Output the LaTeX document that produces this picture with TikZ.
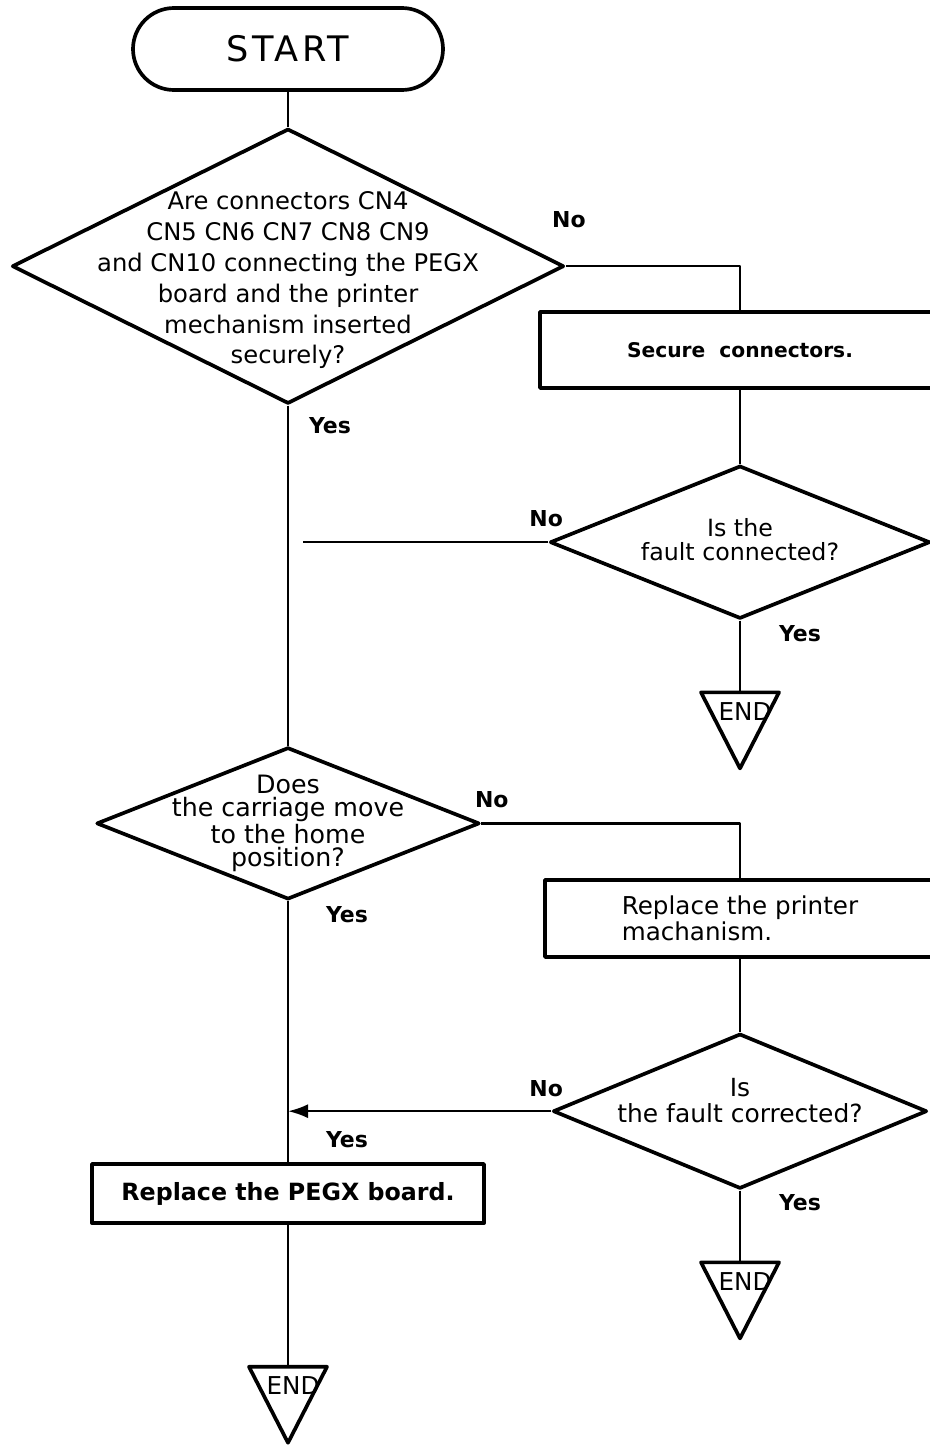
\documentclass[tikz,border=0pt]{standalone}
\usepackage{fontspec}
\setmainfont{DejaVu Sans}
\usetikzlibrary{arrows.meta,positioning,shapes.geometric}

\tikzset{
  decision/.style={draw,diamond,line width=2.1pt,inner sep=0pt},
  action/.style={draw,rectangle,line width=2.1pt,align=left},
  endmark/.style={draw,isosceles triangle,isosceles triangle stretches,shape border rotate=270,
    line width=2.1pt,inner sep=0pt,minimum width=1.56cm,minimum height=1.52cm},
  endtext/.style={font=\fontsize{14}{16}\selectfont},
  yesno/.style={font=\bfseries\fontsize{12.5}{14}\selectfont},
  ask/.style={align=center}
}

\begin{document}
\begin{tikzpicture}[line width=1.3pt,line join=round]
    \useasboundingbox (0,0) rectangle (18.58,-28.92);

    \node[draw,rounded corners=0.82cm,line width=2.1pt,minimum width=6.2cm,minimum height=1.64cm,
      font=\fontsize{20}{24}\selectfont\addfontfeatures{LetterSpace=10}] (start) at (5.76,-0.98) {START};
    \node[decision,minimum width=11.04cm,minimum height=5.5cm,below=0.7cm of start] (q1) {};
    \node[ask,font=\fontsize{13.8}{17.6}\selectfont] (q1t) at ([yshift=-0.28cm]q1.center)
      {Are connectors CN4\\CN5 CN6 CN7 CN8 CN9\\and CN10 connecting the PEGX\\board and the printer\\mechanism inserted\\securely?};

    \node[action,minimum width=8cm,minimum height=1.52cm,font=\bfseries\fontsize{11.5}{14}\selectfont]
      (fix) at (14.8,-7.0) {Secure~~connectors.};
    \node[decision,minimum width=7.6cm,minimum height=3.06cm,below=1.48cm of fix] (q2) {};
    \node[ask,font=\fontsize{13.5}{13.5}\selectfont] (q2t) at ([yshift=0.05cm]q2.center) {Is the\\fault connected?};
    \node[endmark,below=1.4cm of q2,anchor=lower side] (end1) {};
    \node[endtext] (e1) at ([shift={(0.1,-0.42)}]end1.lower side) {END};

    \node[decision,minimum width=7.66cm,minimum height=3.04cm,below=6.8cm of q1] (q3) {};
    \node[ask,font=\fontsize{14.4}{13.2}\selectfont] (q3t) at (q3) {Does\\the carriage move\\to the home\\position?};

    \node[action,minimum width=7.8cm,minimum height=1.54cm,font=\fontsize{14}{11.5}\selectfont]
      (swap) at (14.8,-18.37) {Replace the printer\\machanism.};
    \node[decision,minimum width=7.48cm,minimum height=3.1cm,below=1.46cm of swap] (q4) {};
    \node[ask,font=\fontsize{14.2}{14.8}\selectfont] (q4t) at ([yshift=0.22cm]q4.center) {Is\\the fault corrected?};
    \node[endmark,below=1.4cm of q4,anchor=lower side] (end2) {};
    \node[endtext] (e2) at ([shift={(0.1,-0.42)}]end2.lower side) {END};

    \node[action,minimum width=7.84cm,minimum height=1.18cm,font=\bfseries\fontsize{13.5}{15}\selectfont,
      below=5.22cm of q3] (board) {Replace the PEGX board.};
    \node[endmark,below=2.8cm of board,anchor=lower side] (end3) {};
    \node[endtext] (e3) at ([shift={(0.1,-0.42)}]end3.lower side) {END};

    \draw (start) -- (q1);
    \draw (q1) -- (q3);
    \draw (q3) -- (board);
    \draw (board) -- (end3.lower side);
    \draw (q1.east) -| (fix.north);
    \draw (fix) -- (q2);
    \draw (q2) -- (end1.lower side);
    \coordinate (j1) at (q2.west -| q1.south);
    \draw (q2.west) -- ([xshift=0.3cm]j1);
    \draw (q3.east) -| (swap.north);
    \draw (swap) -- (q4);
    \draw (q4) -- (end2.lower side);
    \draw[-{Latex[length=0.4cm,width=0.28cm]}] (q4.west) -- (q4.west -| q1.south);

    \node[yesno] (n1) at ([shift={(0.06,0.94)}]q1.east) {No};
    \node[yesno] (y1) at ([shift={(0.84,-0.4)}]q1.south) {Yes};
    \node[yesno] (n2) at ([shift={(-0.04,0.47)}]q2.west) {No};
    \node[yesno] (y2) at ([shift={(1.2,-0.26)}]q2.south) {Yes};
    \node[yesno] (n3) at ([shift={(0.21,0.48)}]q3.east) {No};
    \node[yesno] (y3) at ([shift={(1.18,-0.26)}]q3.south) {Yes};
    \node[yesno] (n4) at ([shift={(-0.1,0.45)}]q4.west) {No};
    \node[yesno] (y4) at ([shift={(1.2,-0.24)}]q4.south) {Yes};
    \node[yesno] (y5) at ([shift={(1.18,0.46)}]board.north) {Yes};
  \end{tikzpicture}
\end{document}
